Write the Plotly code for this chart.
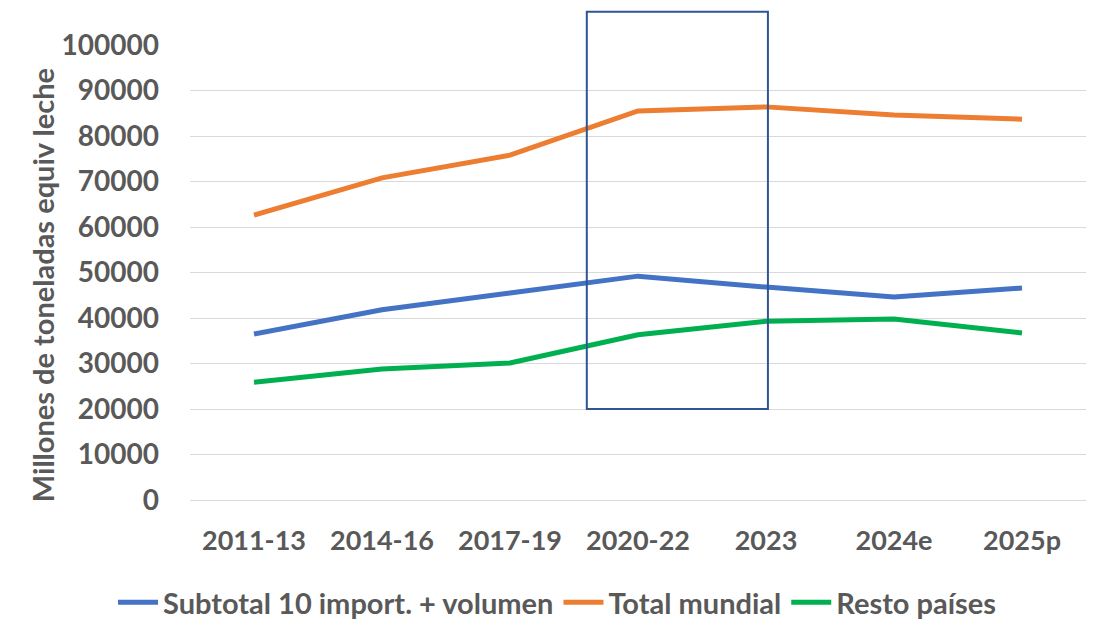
import plotly.graph_objects as go

# periods on the x axis
periodos = ["2011-13", "2014-16", "2017-19", "2020-22", "2023", "2024e", "2025p"]

# millones de toneladas equiv leche
subtotal_10 = [36500, 41800, 45500, 49200, 46800, 44600, 46600]
total_mundial = [62600, 70800, 75800, 85500, 86400, 84600, 83700]
resto_paises = [25900, 28800, 30100, 36300, 39300, 39800, 36700]

gris = "#595959"
fuente = "Lato"

fig = go.Figure()
fig.add_trace(go.Scatter(x=periodos, y=subtotal_10, mode="lines",
                         name="Subtotal 10 import. + volumen",
                         line=dict(color="#4472C4", width=5)))
fig.add_trace(go.Scatter(x=periodos, y=total_mundial, mode="lines",
                         name="Total mundial",
                         line=dict(color="#ED7D31", width=5)))
fig.add_trace(go.Scatter(x=periodos, y=resto_paises, mode="lines",
                         name="Resto países",
                         line=dict(color="#00B050", width=5)))

# box highlighting 2020-22 .. 2023
fig.add_shape(type="rect", xref="x", yref="paper",
              x0=2.6, x1=4.015, y0=0.2, y1=1.073,
              line=dict(color="#2F5597", width=2), fillcolor="rgba(0,0,0,0)")

# y axis title as annotation so it can sit a bit lower like the original
fig.add_annotation(text="Millones de toneladas equiv leche", textangle=-90,
                   xref="paper", yref="paper", x=-0.165, y=0.4725,
                   xanchor="center", yanchor="middle", showarrow=False,
                   font=dict(size=29, weight="bold", color=gris))

fig.update_layout(
    width=1099, height=620,
    paper_bgcolor="white", plot_bgcolor="white",
    margin=dict(l=182, r=21, t=37, b=128, autoexpand=False),
    font=dict(family=fuente, color=gris, size=27, weight="bold"),
    xaxis=dict(type="category", range=[-0.5, 6.5], showgrid=False,
               showline=False, ticks="", ticklabelstandoff=22, automargin=False,
               tickfont=dict(size=27, weight="bold", color=gris)),
    yaxis=dict(range=[0, 100000], dtick=10000, showgrid=True,
               gridcolor="#d9d9d9", gridwidth=1.3, zeroline=True,
               zerolinecolor="#d9d9d9", zerolinewidth=1.3, automargin=False,
               ticks="", ticklabelstandoff=30, tickformat="d",
               tickfont=dict(size=28, weight="bold", color=gris)),
    legend=dict(orientation="h", xref="container", yref="container",
                x=0.5, xanchor="center", y=0.0, yanchor="bottom",
                font=dict(size=29, weight="bold", color=gris),
                itemwidth=40, tracegroupgap=0),
    showlegend=True,
)

fig.write_html("out.html")
